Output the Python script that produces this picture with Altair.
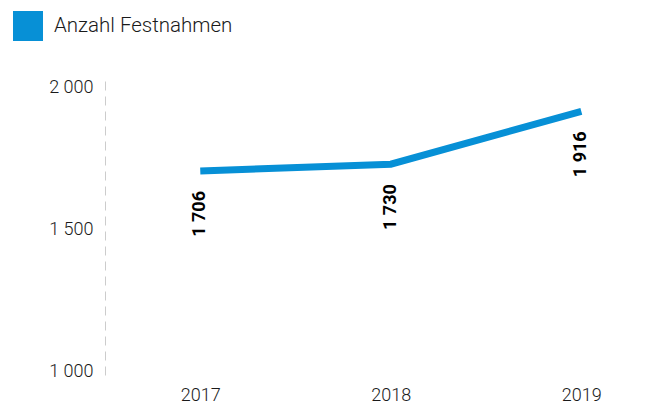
import altair as alt
import pandas as pd

years = [2017, 2018, 2019]
values = [1706, 1730, 1916]
series = "Anzahl Festnahmen"

df = pd.DataFrame({"year": years, "value": values, "series": [series] * len(years)})

BLUE = "#0790D6"
FONT = "Roboto"
TXT = "#1a1a1a"

x = alt.X("year:Q",
          scale=alt.Scale(domain=[2016.5, 2019.413], nice=False, zero=False),
          axis=alt.Axis(values=years, format="d", title=None, domain=False, ticks=False,
                        grid=False, labelFont=FONT, labelFontSize=18, labelFontWeight=300,
                        labelColor=TXT, labelPadding=11))
y = alt.Y("value:Q",
          scale=alt.Scale(domain=[988, 2044], nice=False, zero=False),
          axis=alt.Axis(values=[1000, 1500, 2000], title=None, ticks=False, grid=False,
                        domainDash=[9, 6], domainColor="#cccccc", domainWidth=1,
                        labelFont=FONT, labelFontSize=18, labelFontWeight=300,
                        labelColor=TXT, labelPadding=12,
                        labelExpr="replace(format(datum.value, ','), ',', ' ')"))

line = alt.Chart(df).mark_line(strokeWidth=7).encode(
    x=x, y=y,
    color=alt.Color("series:N", scale=alt.Scale(range=[BLUE]),
                    legend=alt.Legend(title=None, orient="none", legendX=-92, legendY=-64,
                                      symbolType="square", symbolSize=900,
                                      symbolFillColor=BLUE, symbolStrokeColor=BLUE,
                                      symbolStrokeWidth=0, labelFont=FONT,
                                      labelFontSize=20.5, labelFontWeight=300,
                                      labelColor=TXT, labelLimit=500,
                                      labelOffset=11, padding=0))
)

labels = alt.Chart(df).transform_calculate(
    lab="replace(format(datum.value, ','), ',', ' ')"
).mark_text(angle=270, align="right", baseline="middle", dx=-20,
            font=FONT, fontSize=18, fontWeight="bold", color="#000000").encode(
    x=x, y=y, text="lab:N"
)

chart = alt.layer(line, labels).properties(
    width=555, height=300,
    autosize=alt.AutoSizeParams(type="none"),
    padding={"left": 97, "top": 67, "right": 0, "bottom": 29},
).configure_view(stroke=None)

chart.save("out.html", embed_options={"renderer": "svg", "actions": False})
